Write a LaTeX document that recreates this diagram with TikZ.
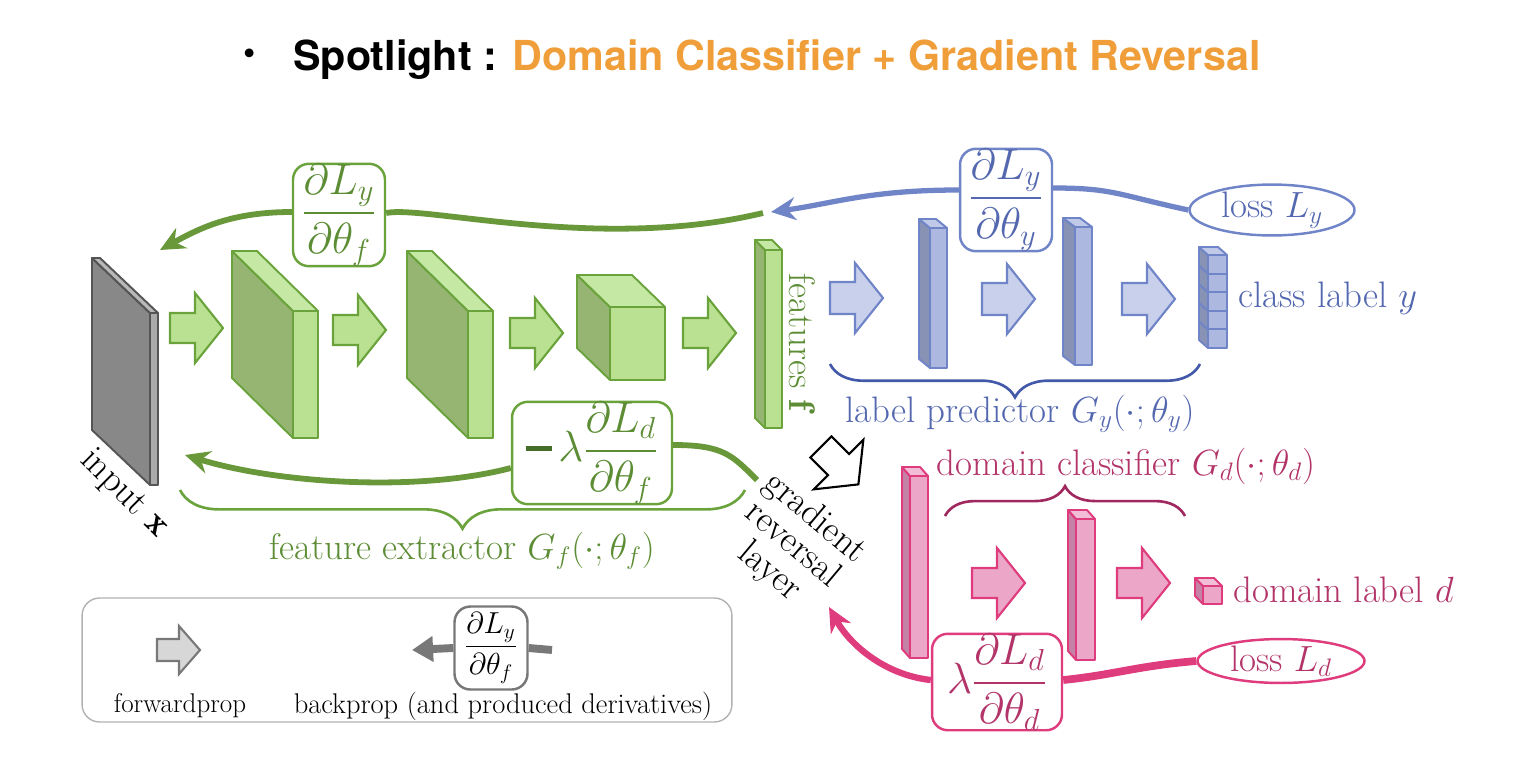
\documentclass[tikz,border=0pt]{standalone}
\usepackage{fontspec}
\usepackage{amsmath}
\usetikzlibrary{arrows.meta,decorations.pathreplacing,calc,shapes.geometric}
\newfontfamily\titlefont{TeX Gyre Heros}
\definecolor{gline}{RGB}{106,163,60}
\definecolor{gfront}{RGB}{186,225,145}
\definecolor{gside}{RGB}{150,181,115}
\definecolor{gtop}{RGB}{198,232,165}
\definecolor{gtext}{RGB}{92,140,52}
\definecolor{gcurve}{RGB}{104,152,58}
\definecolor{gdark}{RGB}{70,110,40}
\definecolor{bline}{RGB}{112,132,200}
\definecolor{bfront}{RGB}{172,184,224}
\definecolor{bside}{RGB}{136,146,180}
\definecolor{btop}{RGB}{192,202,232}
\definecolor{barrowfill}{RGB}{200,208,235}
\definecolor{btext}{RGB}{84,104,176}
\definecolor{bbrace}{RGB}{66,88,168}
\definecolor{pline}{RGB}{222,60,125}
\definecolor{pfront}{RGB}{236,166,200}
\definecolor{pside}{RGB}{196,130,166}
\definecolor{ptop}{RGB}{242,190,215}
\definecolor{ptext}{RGB}{178,52,105}
\definecolor{pbrace}{RGB}{160,40,95}
\definecolor{kline}{RGB}{85,85,85}
\definecolor{kfront}{RGB}{170,170,170}
\definecolor{kside}{RGB}{136,136,136}
\definecolor{ktop}{RGB}{185,185,185}
\definecolor{titleorange}{RGB}{240,158,58}
\definecolor{leggray}{RGB}{120,120,120}
\definecolor{legfill}{RGB}{215,215,215}
\newcommand{\cuboid}[7]{%
 \filldraw[draw=#7line,fill=#7side,line width=1.1pt,line join=round] (#1,#2) -- ++(-#5,-#6) -- ++(0,#4) -- ++(#5,#6) -- cycle;
 \filldraw[draw=#7line,fill=#7top,line width=1.1pt,line join=round] (#1,#2) -- ++(-#5,-#6) -- ++(#3,0) -- ++(#5,#6) -- cycle;
 \filldraw[draw=#7line,fill=#7front,line width=1.1pt,line join=round] (#1,#2) rectangle ++(#3,#4);}
% x, y (tail centre), shaft length, head length, shaft half, head half, fill, draw
\newcommand{\barrow}[8]{%
 \filldraw[fill=#7,draw=#8,line width=1.2pt,line join=miter] (#1,#2) ++(0,-#5) -- ++(#3,0) -- ++(0,{#5-#6}) -- ++(#4,#6) -- ++(-#4,#6) -- ++(0,{#5-#6}) -- ++(-#3,0) -- cycle;}
\begin{document}
\begin{tikzpicture}[x=0.02cm,y=-0.02cm,
  lbl/.style={font=\fontsize{21}{25}\selectfont, inner sep=0pt},
  fracbox/.style={draw, line width=1.4pt, rounded corners=9pt, fill=white, inner sep=0pt, font=\fontsize{23.5}{27}\selectfont},
  lossel/.style={ellipse, draw, line width=1.4pt, fill=white, inner sep=0pt, font=\fontsize{21}{25}\selectfont},
  gcurveS/.style={draw=gcurve, line width=3.3pt},
  bcurveS/.style={draw=bline, line width=3pt},
  pcurveS/.style={draw=pline, line width=3.6pt},
  tipS/.style={-{Stealth[length=14pt,width=13pt]}},
  bracestyle/.style={decorate, line width=1.5pt}]
\useasboundingbox (0,0) rectangle (1538,758);

% title
\node[inner sep=0pt] (bullet) at (250,57) {\titlefont\fontsize{20}{24}\selectfont\textbullet};
\node[anchor=base west, inner sep=0pt] (title) at (293,70) {\titlefont\bfseries\fontsize{23.5}{28}\selectfont Spotlight : \textcolor{titleorange}{Domain Classifier + Gradient Reversal}};

% input slab
\cuboid{150}{313}{8}{172}{58}{55}{k}
\node[lbl, rotate=-45] (inp) at (124,494) {input $\mathbf{x}$};

% feature extractor
\barrow{170}{328}{25}{28}{15}{35}{gfront}{gline}
\cuboid{293}{311}{25}{127}{61}{60}{g}
\barrow{333}{330}{25}{28}{15}{35}{gfront}{gline}
\cuboid{468}{311}{25}{127}{61}{60}{g}
\barrow{510}{333}{25}{28}{15}{35}{gfront}{gline}
\cuboid{610}{307}{55}{73}{33}{32}{g}
\barrow{683}{333}{25}{28}{15}{35}{gfront}{gline}
\cuboid{765}{250}{17}{178}{10}{10}{g}
\node[lbl, rotate=-90, text=gtext] (feat) at (802,342) {features $\mathbf{f}$};

% label predictor
\barrow{830}{298}{25}{28}{16}{35}{barrowfill}{bline}
\cuboid{930}{228}{17}{140}{11}{9}{b}
\barrow{982}{299}{25}{28}{16}{35}{barrowfill}{bline}
\cuboid{1075}{227}{17}{138}{12}{9}{b}
\barrow{1122}{299}{25}{28}{16}{35}{barrowfill}{bline}
\foreach \i in {4,3,2,1,0} {\pgfmathsetmacro\yy{255+\i*18.6}\cuboid{1208}{\yy}{19}{18.6}{9}{8}{b}}
\node[lbl, text=btext, anchor=west] (cls) at (1238,298) {class label $y$};
\draw[bracestyle, draw=bbrace, decoration={brace, amplitude=19pt}] (1200,364) -- (830,364);
\node[lbl, text=btext] (lp) at (1020,414) {label predictor $G_y(\cdot;\theta_y)$};

% domain classifier
\cuboid{910}{476}{18}{182}{8}{9}{p}
\node[lbl, text=ptext] (dc) at (1126,466) {domain classifier $G_d(\cdot;\theta_d)$};
\draw[bracestyle, draw=pbrace, decoration={brace, amplitude=17pt}] (945,516) -- (1185,516);
\barrow{972}{583}{25}{28}{15}{35}{pfront}{pline}
\cuboid{1076}{519}{19}{141}{8}{9}{p}
\barrow{1117}{583}{25}{28}{15}{35}{pfront}{pline}
\cuboid{1203}{586}{19}{18}{8}{8}{p}
\node[lbl, text=ptext, anchor=west] (dom) at (1233,590) {domain label $d$};

% feature extractor brace
\draw[bracestyle, draw=gline, decoration={brace, amplitude=22pt}] (745,490) -- (180,490);
\node[lbl, text=gtext] (fe) at (462,551) {feature extractor $G_f(\cdot;\theta_f)$};

% gradient reversal layer
\begin{scope}[rotate around={-45:(840,466)}]
\barrow{813}{466}{25}{28}{15}{35}{white}{black}
\end{scope}
\node[lbl, rotate=-40, align=center, font=\fontsize{21}{20}\selectfont] (grl) at (792,545) {gradient\\reversal\\layer};

% gradient boxes
\node[fracbox, draw=gline, text=gtext, minimum width=1.84cm, minimum height=1.88cm] (gradYf) at (339,215) {$\displaystyle\frac{\partial L_y}{\partial\theta_f}$};
\node[fracbox, draw=bline, text=btext, minimum width=1.84cm, minimum height=1.86cm] (gradYy) at (1006,200) {$\displaystyle\frac{\partial L_y}{\partial\theta_y}$};
\node[lossel, draw=bline, text=btext, minimum width=3.3cm, minimum height=1.0cm] (lossY) at (1272,210) {loss $L_y$};
\node[fracbox, draw=gline, text=gtext, minimum width=3.2cm, minimum height=1.74cm] (gradD) at (592,453) {{\color{gdark}\rule[0.25em]{0.62em}{0.12em}}\,$\lambda\displaystyle\frac{\partial L_d}{\partial\theta_f}$};
\node[fracbox, draw=pline, text=ptext, minimum width=2.6cm, minimum height=1.82cm] (gradD2) at (997,682) {$\lambda\displaystyle\frac{\partial L_d}{\partial\theta_d}$};
\node[lossel, draw=pline, text=ptext, minimum width=3.34cm, minimum height=0.86cm] (lossD) at (1281,661) {loss $L_d$};

% backprop curves
\coordinate (gstart) at (763,213);
\coordinate (tipB) at (771,212);
\coordinate (tipG1) at (160,250);
\coordinate (gbstart) at (757,480);
\coordinate (tipG2) at (185,455);
\coordinate (tipP) at (829,607);
\draw[bcurveS] (lossY.west) .. controls +(-70,-15) and +(60,0) .. ($(gradYy.east)+(0,-12)$);
\draw[bcurveS, tipS] ($(gradYy.west)+(0,-10)$) .. controls +(-90,0) and +(60,-8) .. (tipB);
\draw[gcurveS] (gstart) .. controls (600,252) and (425,205) .. ($(gradYf.east)+(0,-2)$);
\draw[gcurveS, tipS] ($(gradYf.west)+(0,-3)$) .. controls +(-60,0) and +(40,-22) .. (tipG1);
\draw[gcurveS] (gbstart) .. controls +(-25,-25) and +(50,0) .. ($(gradD.east)+(0,-8)$);
\draw[gcurveS, tipS] ($(gradD.west)+(0,15)$) .. controls (420,492) and (280,484) .. (tipG2);
\draw[pcurveS, line width=4.4pt] (lossD.west) .. controls +(-60,5) and +(50,-5) .. ($(gradD2.east)+(0,-2)$);
\draw[pcurveS, tipS] ($(gradD2.west)+(0,-2)$) .. controls (885,675) and (850,645) .. (tipP);

% legend
\node[draw=gray!60, line width=0.8pt, rounded corners=10pt, minimum width=13cm, minimum height=2.48cm] (legend) at (407,660) {};
\barrow{157}{650}{22}{21}{11}{24}{legfill}{leggray}
\node[fracbox, draw=leggray, minimum width=1.46cm, minimum height=1.66cm, font=\fontsize{17.5}{20}\selectfont] (legfrac) at (491,648) {$\displaystyle\frac{\partial L_y}{\partial\theta_f}$};
\coordinate (legR) at (552,650);
\coordinate (legL) at (412,650);
\draw[draw=leggray, line width=4.5pt] (legR) -- (legfrac.east);
\draw[draw=leggray, line width=4.5pt, -{Triangle[length=12pt,width=14pt]}] (legfrac.west) -- (legL);
\node[font=\fontsize{15.4}{18}\selectfont] (fwd) at (180,706) {forwardprop};
\node[font=\fontsize{16.2}{18}\selectfont] (bwd) at (503,706) {backprop (and produced derivatives)};
\end{tikzpicture}
\end{document}
